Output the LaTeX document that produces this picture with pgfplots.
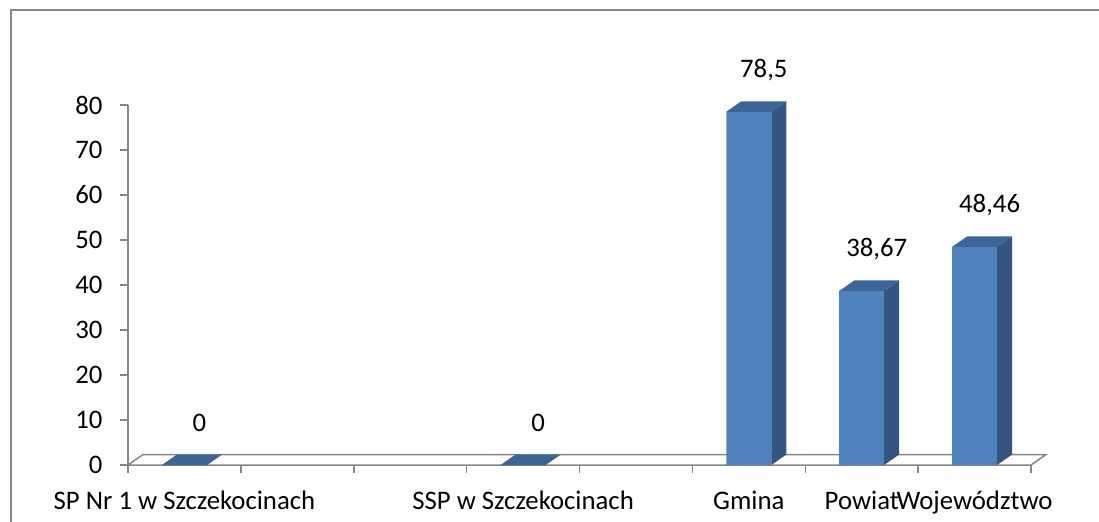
\documentclass[border=0pt]{standalone}
\usepackage{fontspec}
\setmainfont{Carlito}
\usepackage{pgfplots}
\pgfplotsset{compat=1.18}
\usepackage{pgfplotstable}

\definecolor{barfront}{HTML}{4F81BD}
\definecolor{bartop}{HTML}{3D6598}
\definecolor{barside}{HTML}{33557F}
\definecolor{axisgray}{HTML}{868686}

% top and right faces of a 3D column; \barval is the column value
\pgfdeclareplotmark{bar3d}{%
  \pgfsetfillcolor{bartop}%
  \pgfpathmoveto{\pgfpoint{-9pt}{0pt}}%
  \pgfpathlineto{\pgfpoint{9pt}{0pt}}%
  \pgfpathlineto{\pgfpoint{15pt}{4.2pt}}%
  \pgfpathlineto{\pgfpoint{-3pt}{4.2pt}}%
  \pgfpathclose
  \pgfusepath{fill}%
  \pgfsetfillcolor{barside}%
  \pgfpathmoveto{\pgfpoint{9pt}{0pt}}%
  \pgfpathlineto{\pgfpoint{15pt}{4.2pt}}%
  \pgfpathlineto{\pgfpoint{15pt}{4.2pt-\barval*1.8pt}}%
  \pgfpathlineto{\pgfpoint{9pt}{-\barval*1.8pt}}%
  \pgfpathclose
  \pgfusepath{fill}%
}

\pgfplotstableread{
x v
0 0
3 0
5 78.5
6 38.67
7 48.46
}\wyniki

\begin{document}
\begin{tikzpicture}[x=0.4pt, y=0.4pt, font=\fontsize{10.7}{12.8}\selectfont]
\useasboundingbox (0,0) rectangle (1099,521);
\draw[axisgray, line width=0.9pt] (11,-5) -- (11,511) -- (1105,511);
\begin{axis}[
    at={(51.2pt,22.4pt)}, anchor=south west,
    x=45.15pt, y=1.8pt,
    xmin=-0.5, xmax=7.5, ymin=0, ymax=80,
    clip=false,
    axis x line*=bottom, axis y line*=left,
    axis line style={draw=axisgray, line width=0.6pt},
    tick align=outside, major tick length=3.2pt,
    tick style={draw=axisgray, line width=0.6pt},
    ytick={0,10,...,80},
    xtick={-0.5,0.5,1.5,2.5,3.5,4.5,5.5,6.5,7.5},
    xticklabels={},
    extra x ticks={0,3,5,6,7},
    extra x tick labels={SP Nr 1 w Szczekocinach, SSP w Szczekocinach, Gmina, Powiat, Województwo},
    extra x tick style={major tick length=0pt},
    xticklabel style={anchor=base, inner sep=0pt, yshift=-17.8pt},
    yticklabel style={anchor=east, inner sep=0pt, xshift=-6.8pt},
    /pgf/number format/.cd, use comma, assume math mode=true,
]
\draw[axisgray, line width=0.6pt, fill=white]
  (axis cs:-0.5,0) -- (axis cs:7.5,0) -- ++(6pt,4.2pt)
  -- ([shift={(6pt,4.2pt)}]axis cs:-0.5,0) -- cycle;
\addplot[ybar, bar width=18pt, fill=barfront, draw=none,
  nodes near coords,
  every node near coord/.append style={anchor=base, inner sep=0pt,
    xshift=6pt, yshift=13.6pt, black}]
  table[x=x, y=v] {\wyniki};
\addplot[only marks, mark=bar3d,
  visualization depends on={\thisrow{v} \as \barval}]
  table[x=x, y=v] {\wyniki};
\end{axis}
\end{tikzpicture}
\end{document}
